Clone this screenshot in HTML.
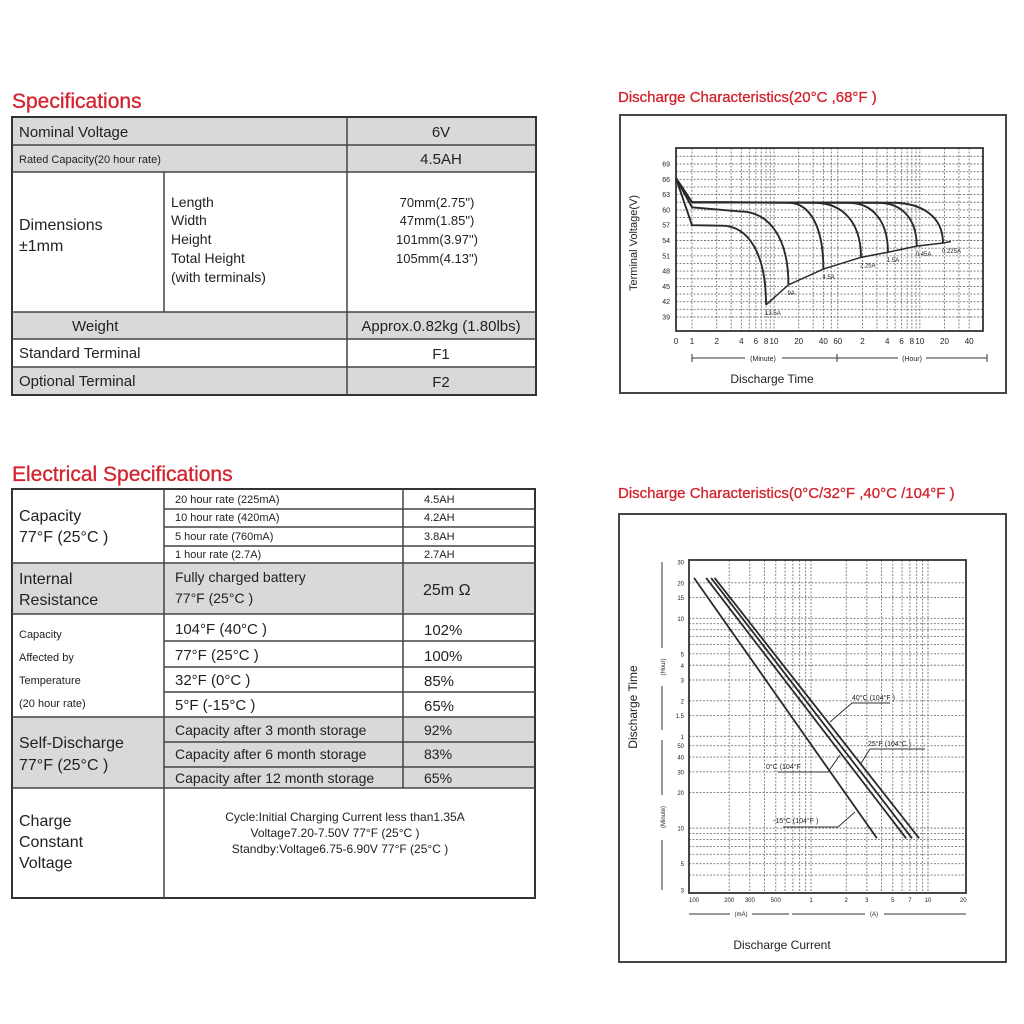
<!DOCTYPE html>
<html><head><meta charset="utf-8"><style>
html,body{margin:0;padding:0;background:#fff;}
svg{display:block;font-family:"Liberation Sans",Arial,sans-serif;}
.ttl{fill:#d3232e;}
.t{fill:#222;}
</style></head><body>
<svg id="root" width="1024" height="1024" viewBox="0 0 1024 1024">
<rect width="1024" height="1024" fill="#fff"/>

<!-- Specifications table -->
<g>
<text class="ttl" x="12" y="108" font-size="21" stroke="#d3232e" stroke-width="0.3">Specifications</text>
<rect x="12" y="117" width="524" height="55" fill="#d9d9d9"/>
<rect x="12" y="312" width="524" height="27" fill="#d9d9d9"/>
<rect x="12" y="367" width="524" height="28" fill="#d9d9d9"/>
<rect x="12" y="117" width="524" height="278" fill="none" stroke="#333" stroke-width="2"/>
<g stroke="#444" stroke-width="1.5">
<line x1="12" y1="145" x2="536" y2="145"/><line x1="12" y1="172" x2="536" y2="172"/>
<line x1="12" y1="312" x2="536" y2="312"/><line x1="12" y1="339" x2="536" y2="339"/>
<line x1="12" y1="367" x2="536" y2="367"/>
<line x1="347" y1="117" x2="347" y2="395"/><line x1="164" y1="172" x2="164" y2="312"/>
</g>
<g class="t" font-size="15">
<text x="19" y="137">Nominal Voltage</text><text x="441" y="137" text-anchor="middle">6V</text>
<text x="19" y="163" font-size="11">Rated Capacity(20 hour rate)</text><text x="441" y="164" text-anchor="middle">4.5AH</text>
<text x="19" y="230" font-size="16">Dimensions</text><text x="19" y="251" font-size="16">±1mm</text>
<g font-size="14"><text x="171" y="207">Length</text><text x="171" y="225">Width</text><text x="171" y="244">Height</text><text x="171" y="263">Total Height</text><text x="171" y="282">(with terminals)</text></g>
<g font-size="13" text-anchor="middle"><text x="437" y="207">70mm(2.75")</text><text x="437" y="225">47mm(1.85")</text><text x="437" y="244">101mm(3.97")</text><text x="437" y="263">105mm(4.13")</text></g>
<text x="72" y="331">Weight</text><text x="441" y="331" text-anchor="middle">Approx.0.82kg (1.80lbs)</text>
<text x="19" y="358">Standard Terminal</text><text x="441" y="359" text-anchor="middle">F1</text>
<text x="19" y="386">Optional Terminal</text><text x="441" y="387" text-anchor="middle">F2</text>
</g>
</g>

<!-- Electrical table -->
<g>
<text class="ttl" x="12" y="481" font-size="21" stroke="#d3232e" stroke-width="0.3">Electrical Specifications</text>
<rect x="12" y="563" width="523" height="51" fill="#d9d9d9"/>
<rect x="12" y="717" width="523" height="71" fill="#d9d9d9"/>
<rect x="12" y="489" width="523" height="409" fill="none" stroke="#333" stroke-width="2"/>
<g stroke="#444" stroke-width="1.5">
<line x1="164" y1="509" x2="535" y2="509"/><line x1="164" y1="527" x2="535" y2="527"/><line x1="164" y1="546" x2="535" y2="546"/>
<line x1="12" y1="563" x2="535" y2="563"/><line x1="12" y1="614" x2="535" y2="614"/>
<line x1="164" y1="641" x2="535" y2="641"/><line x1="164" y1="667" x2="535" y2="667"/><line x1="164" y1="692" x2="535" y2="692"/>
<line x1="12" y1="717" x2="535" y2="717"/><line x1="164" y1="742" x2="535" y2="742"/><line x1="164" y1="767" x2="535" y2="767"/>
<line x1="12" y1="788" x2="535" y2="788"/>
<line x1="164" y1="489" x2="164" y2="898"/><line x1="403" y1="489" x2="403" y2="788"/>
</g>
<g class="t">
<text x="19" y="521" font-size="16">Capacity</text><text x="19" y="542" font-size="16">77°F (25°C )</text>
<g font-size="11"><text x="175" y="503">20 hour rate (225mA)</text><text x="175" y="521">10 hour rate (420mA)</text><text x="175" y="540">5 hour rate (760mA)</text><text x="175" y="558">1 hour rate (2.7A)</text>
<text x="424" y="503">4.5AH</text><text x="424" y="521">4.2AH</text><text x="424" y="540">3.8AH</text><text x="424" y="558">2.7AH</text></g>
<text x="19" y="584" font-size="16">Internal</text><text x="19" y="605" font-size="16">Resistance</text>
<text x="175" y="582" font-size="14">Fully charged battery</text><text x="175" y="603" font-size="14">77°F (25°C )</text>
<text x="423" y="595" font-size="16">25m Ω</text>
<g font-size="11"><text x="19" y="638">Capacity</text><text x="19" y="661">Affected by</text><text x="19" y="684">Temperature</text><text x="19" y="707">(20 hour rate)</text></g>
<g font-size="15"><text x="175" y="634">104°F (40°C )</text><text x="175" y="660">77°F (25°C )</text><text x="175" y="685">32°F (0°C )</text><text x="175" y="710">5°F (-15°C )</text>
<text x="424" y="635">102%</text><text x="424" y="661">100%</text><text x="424" y="686">85%</text><text x="424" y="711">65%</text></g>
<text x="19" y="748" font-size="16">Self-Discharge</text><text x="19" y="770" font-size="16">77°F (25°C )</text>
<g font-size="14"><text x="175" y="735">Capacity after 3 month storage</text><text x="175" y="759">Capacity after 6 month storage</text><text x="175" y="783">Capacity after 12 month storage</text>
<text x="424" y="735">92%</text><text x="424" y="759">83%</text><text x="424" y="783">65%</text></g>
<g font-size="16"><text x="19" y="826">Charge</text><text x="19" y="847">Constant</text><text x="19" y="868">Voltage</text></g>
<g font-size="12" text-anchor="middle"><text x="345" y="821">Cycle:Initial Charging Current less than1.35A</text><text x="335" y="837">Voltage7.20-7.50V 77°F (25°C )</text><text x="340" y="853">Standby:Voltage6.75-6.90V 77°F (25°C )</text></g>
</g>
</g>

<!-- Chart 1 frame -->
<g>
<text class="ttl" x="618" y="102" font-size="15" stroke="#d3232e" stroke-width="0.3">Discharge Characteristics(20°C ,68°F )</text>
<rect x="620" y="115" width="386" height="278" fill="none" stroke="#444" stroke-width="2"/>
<g id="c1grid"></g>
<rect x="676" y="148" width="307" height="183" fill="none" stroke="#333" stroke-width="1.8"/>
<g id="c1marks"></g>
<text class="t" x="0" y="0" font-size="11" transform="translate(637,243) rotate(-90)" text-anchor="middle">Terminal Voltage(V)</text>
<text class="t" x="772" y="383" font-size="12" text-anchor="middle">Discharge Time</text>
<g stroke="#333" stroke-width="1">
<line x1="692" y1="358" x2="745" y2="358"/><line x1="782" y1="358" x2="837" y2="358"/><line x1="837" y1="358" x2="898" y2="358"/><line x1="926" y1="358" x2="987" y2="358"/>
<line x1="692" y1="354" x2="692" y2="362"/><line x1="837" y1="354" x2="837" y2="362"/><line x1="987" y1="354" x2="987" y2="362"/>
</g>
<text class="t" x="763" y="361" font-size="7" text-anchor="middle">(Minute)</text>
<text class="t" x="912" y="361" font-size="7" text-anchor="middle">(Hour)</text>
</g>

<!-- Chart 2 frame -->
<g>
<text class="ttl" x="618" y="498" font-size="15" stroke="#d3232e" stroke-width="0.3">Discharge Characteristics(0°C/32°F ,40°C /104°F )</text>
<rect x="619" y="514" width="387" height="448" fill="none" stroke="#444" stroke-width="2"/>
<g id="c2grid"></g>
<rect x="689" y="560" width="277" height="333" fill="none" stroke="#333" stroke-width="1.8"/>
<g id="c2marks"></g>
<text class="t" x="0" y="0" font-size="12" transform="translate(637,707) rotate(-90)" text-anchor="middle">Discharge Time</text>
<text class="t" x="782" y="949" font-size="12" text-anchor="middle">Discharge Current</text>
<g stroke="#333" stroke-width="1">
<line x1="662" y1="562" x2="662" y2="648"/><line x1="662" y1="686" x2="662" y2="730"/><line x1="662" y1="740" x2="662" y2="795"/><line x1="662" y1="840" x2="662" y2="890"/>
<line x1="689" y1="914" x2="730" y2="914"/><line x1="752" y1="914" x2="789" y2="914"/><line x1="792" y1="914" x2="865" y2="914"/><line x1="884" y1="914" x2="966" y2="914"/>
</g>
<text class="t" font-size="6" transform="translate(665,667) rotate(-90)" text-anchor="middle">(Hour)</text>
<text class="t" font-size="6" transform="translate(665,817) rotate(-90)" text-anchor="middle">(Minute)</text>
<text class="t" x="741" y="916" font-size="6" text-anchor="middle">(mA)</text>
<text class="t" x="874" y="916" font-size="6" text-anchor="middle">(A)</text>
</g>
</svg>

<script>
// ---- Chart 1 data ----
const c1Labels = ['13.5A','9A','4.5A','2.25A','1.5A','0.45A','0.225A'];
const c1StartV = 6.62;
const c1PlateauV = [5.7, 6.05, 6.15, 6.15, 6.15, 6.15, 6.15];
const c1KneeMin = [2.3, 3.8, 15, 31, 80, 185, 275];
const c1EndMin = [8, 15, 40, 115, 245, 550, 1150];
const c1EndV = [4.14, 4.53, 4.84, 5.07, 5.17, 5.29, 5.35];
const c1YTicks = [6.9, 6.6, 6.3, 6.0, 5.7, 5.4, 5.1, 4.8, 4.5, 4.2, 3.9];
const c1YTickLabels = ['69','66','63','60','57','54','51','48','45','42','39'];
const c1XTicks = [0, 1, 2, 4, 6, 8, 10, 20, 40, 60, 120, 240, 360, 480, 600, 1200, 2400];
const c1XTickLabels = ['0','1','2','4','6','8','10','20','40','60','2','4','6','8','10','20','40'];
const c1XGrid = [1,2,3,4,5,6,7,8,9,10,20,30,40,50,60,120,180,240,300,360,420,480,540,600,1200,1800,2400];

// ---- Chart 2 data ----
const c2Series = ['-15°C','0°C','25°C','40°C'];
const c2CurrentAt20h = [0.1, 0.127, 0.14, 0.15];
const c2CurrentAt8min = [3.66, 6.5, 7.3, 8.4];
const c2TimeTop = 1320;
const c2TimeBottom = 8.2;
const c2XTicks = [0.1,0.2,0.3,0.5,1,2,3,5,7,10,20];
const c2XTickLabels = ['100','200','300','500','1','2','3','5','7','10','20'];
const c2YTicks = [1800,1200,900,600,300,240,180,120,90,60,50,40,30,20,10,5,3];
const c2YTickLabels = ['30','20','15','10','5','4','3','2','1.5','1','50','40','30','20','10','5','3'];
const c2XGrid = [0.2,0.3,0.4,0.5,0.6,0.7,0.8,0.9,1,2,3,4,5,6,7,8,9,10];
const c2YGrid = [4,5,6,7,8,9,10,20,30,40,50,60,90,120,180,240,300,360,420,480,540,600,900,1200];

const NS = 'http://www.w3.org/2000/svg';
function mk(tag, attrs, parent){ const e=document.createElementNS(NS,tag); for(const k in attrs) e.setAttribute(k,attrs[k]); parent.appendChild(e); return e; }

// Chart 1 axes
function x1(t){ return t<=0 ? 676 : 692 + 82*Math.log10(t); }
function y1(v){ return 164 + (6.9 - v) * 51; }

const g1 = document.getElementById('c1grid');
const m1 = document.getElementById('c1marks');
for (let v = 3.9; v <= 7.06; v += 0.15) {
  const ln = mk('line',{x1:676,x2:983,y1:y1(v),y2:y1(v),stroke:'#777','stroke-width':0.9,'stroke-dasharray':'2,1.5'},g1);
  
  
}
c1XGrid.forEach(t => {
  const ln = mk('line',{x1:x1(t),x2:x1(t),y1:148,y2:331,stroke:'#777','stroke-width':0.9,'stroke-dasharray':'2,1.5'},g1);
  
  
});
c1YTicks.forEach((v,i) => {
  const tx = mk('text',{x:670,y:y1(v)+2.5,'font-size':7,'text-anchor':'end',fill:'#222'},g1);
  tx.textContent = c1YTickLabels[i];
  
  
});
c1XTicks.forEach((t,i) => {
  const tx = mk('text',{x:x1(t),y:344,'font-size':8,'text-anchor':'middle',fill:'#222'},g1);
  tx.textContent = c1XTickLabels[i];
  
  
});
c1Labels.forEach((lab,i) => {
  const xs = x1(0), ys = y1(c1StartV);
  const xp = x1(1), yp = y1(c1PlateauV[i]);
  const xk = x1(c1KneeMin[i]), yk = y1(c1PlateauV[i] - (i===1?0.08:0.01));
  const xe = x1(c1EndMin[i]), ye = y1(c1EndV[i]);
  const d = `M${xs},${ys} L${xp},${yp} L${xk},${yk} C${xk+0.6*(xe-xk)},${yk} ${xe},${yk+0.35*(ye-yk)} ${xe},${ye}`;
  const p = mk('path',{d:d,fill:'none',stroke:'#2a2a2a','stroke-width':1.9},m1);
  
  
  const tx = mk('text',{x:xe-1,y:ye+10,'font-size':6,fill:'#222'},m1);
  tx.textContent = lab;
  
  
});
{
  let d = '';
  c1EndMin.forEach((t,i) => { d += (i? ' L':'M') + x1(t) + ',' + y1(c1EndV[i]); });
  d += ' L' + x1(c1EndMin[c1EndMin.length-1]*1.25) + ',' + y1(c1EndV[c1EndV.length-1]+0.03);
  const p = mk('path',{d:d,fill:'none',stroke:'#2a2a2a','stroke-width':1.5},m1);
  
  
}

// Chart 2 axes
function x2(a){ return 694 + 117*Math.log10(a/0.1); }
function y2(m){ return 562 + 118*(Math.log10(1800) - Math.log10(m)); }

const g2 = document.getElementById('c2grid');
const m2 = document.getElementById('c2marks');
c2YGrid.forEach(m => {
  const ln = mk('line',{x1:689,x2:966,y1:y2(m),y2:y2(m),stroke:'#777','stroke-width':0.9,'stroke-dasharray':'2,1.5'},g2);
  
  
});
c2XGrid.forEach(a => {
  const ln = mk('line',{x1:x2(a),x2:x2(a),y1:560,y2:893,stroke:'#777','stroke-width':0.9,'stroke-dasharray':'2,1.5'},g2);
  
  
});
c2YTicks.forEach((m,i) => {
  const tx = mk('text',{x:684,y:y2(m)+2.5,'font-size':6,'text-anchor':'end',fill:'#222'},g2);
  tx.textContent = c2YTickLabels[i];
  
  
});
c2XTicks.forEach((a,i) => {
  const tx = mk('text',{x:x2(a),y:902,'font-size':6,'text-anchor':'middle',fill:'#222'},g2);
  tx.textContent = c2XTickLabels[i];
  
  
});
c2Series.forEach((s,i) => {
  const ln = mk('line',{x1:x2(c2CurrentAt20h[i]),y1:y2(c2TimeTop),x2:x2(c2CurrentAt8min[i]),y2:y2(c2TimeBottom),stroke:'#2a2a2a','stroke-width':1.8},m2);
  
  
});
// annotations
const ann = [
  {t:'40°C  (104°F )', tx:852, ty:700, lx:[[890,703],[852,703],[830,722]]},
  {t:'25°F  (104°C )', tx:868, ty:746, lx:[[925,749],[870,749],[860,765]]},
  {t:'0°C  (104°F', tx:766, ty:769, lx:[[778,772],[828,772],[840,755]]},
  {t:'-15°C  (104°F )', tx:773, ty:823, lx:[[783,827],[838,827],[855,812]]}
];
ann.forEach(a => {
  const tx = mk('text',{x:a.tx,y:a.ty,'font-size':7,fill:'#222'},m2);
  tx.textContent = a.t;
  
  
  const pl = mk('polyline',{points:a.lx.map(p=>p.join(',')).join(' '),fill:'none',stroke:'#333','stroke-width':1},m2);
  
  
});
</script>
</body></html>
